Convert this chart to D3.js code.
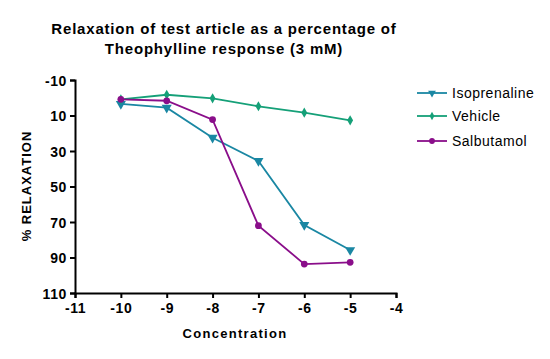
<!DOCTYPE html>
<html><head><meta charset="utf-8">
<script src="https://cdn.jsdelivr.net/npm/d3@7"></script>
<style>body{margin:0;background:#fff}svg{display:block}text{font-family:"Liberation Sans",Arial,sans-serif}</style>
</head><body>
<script>
const concentrations = [-10, -9, -8, -7, -6, -5];
const isoprenaline = [3.5, 5.6, 22.5, 35.6, 71.7, 85.8];
const vehicle = [0.9, -1.7, 0.3, 4.8, 8.4, 12.7];
const salbutamol = [0.9, 1.7, 12.3, 72.1, 93.7, 92.7];
const xTicks = [-11, -10, -9, -8, -7, -6, -5, -4];
const yTicks = [-10, 10, 30, 50, 70, 90, 110];
const seriesNames = ["Isoprenaline", "Vehicle", "Salbutamol"];
const seriesColors = ["#1a87a3", "#15a078", "#8a0e8a"];
const seriesSymbols = [d3.symbolTriangle, d3.symbolDiamond, d3.symbolCircle];

const W = 550, H = 359;
const svg = d3.select("body").append("svg").attr("width", W).attr("height", H);
const x = d3.scaleLinear().domain([-11, -4]).range([75, 396]);
const y = d3.scaleLinear().domain([-10, 110]).range([80, 293]);

svg.append("text").attr("x", 224).attr("y", 34).attr("text-anchor", "middle")
  .attr("font-size", 15).attr("font-weight", "bold").attr("letter-spacing", 0.8).text("Relaxation of test article as a percentage of");
svg.append("text").attr("x", 224).attr("y", 54).attr("text-anchor", "middle")
  .attr("font-size", 15).attr("font-weight", "bold").attr("letter-spacing", 0.8).text("Theophylline response (3 mM)");

const fmt = d => String(d);
const xa = svg.append("g").attr("transform", "translate(0,293)")
  .call(d3.axisBottom(x).tickValues(xTicks).tickSize(5).tickPadding(5).tickFormat(fmt));
const ya = svg.append("g").attr("transform", "translate(75,0)")
  .call(d3.axisLeft(y).tickValues(yTicks).tickSize(5).tickPadding(3).tickFormat(fmt));
[xa, ya].forEach(a => {
  a.select(".domain").attr("stroke", "#000").attr("stroke-width", 2);
  a.selectAll(".tick line").attr("stroke", "#000").attr("stroke-width", 2);
  a.selectAll(".tick text").attr("fill", "#000").attr("font-size", 14).attr("font-weight", "bold")
    .attr("letter-spacing", 0.6).attr("font-family", '"Liberation Sans",Arial,sans-serif');
});
ya.selectAll(".tick text").attr("dy", "0.36em");

svg.append("text").attr("x", 235).attr("y", 338).attr("text-anchor", "middle")
  .attr("font-size", 13).attr("font-weight", "bold").attr("letter-spacing", 1.3).text("Concentration");
svg.append("text").attr("transform", "translate(31,186) rotate(-90)").attr("text-anchor", "middle")
  .attr("font-size", 13).attr("font-weight", "bold").attr("letter-spacing", 1).text("% RELAXATION");

const data = [isoprenaline, vehicle, salbutamol];
const line = d3.line().x((d, i) => x(concentrations[i])).y(d => y(d));
data.forEach((vals, k) => {
  const g = svg.append("g");
  g.append("path").attr("d", line(vals)).attr("fill", "none")
    .attr("stroke", seriesColors[k]).attr("stroke-width", 1.8);
  const sizes = [44, 30, 36];
  g.selectAll("path.m").data(vals).join("path").attr("class", "m")
    .attr("transform", (d, i) => `translate(${x(concentrations[i])},${y(d)})` + (k === 0 ? " rotate(180)" : ""))
    .attr("d", d3.symbol().type(seriesSymbols[k]).size(sizes[k]))
    .attr("fill", seriesColors[k]);
});

const legY = [93, 116, 141];
seriesNames.forEach((n, k) => {
  const g = svg.append("g").attr("transform", `translate(0,${legY[k]})`);
  g.append("line").attr("x1", 417).attr("x2", 447).attr("stroke", seriesColors[k]).attr("stroke-width", 1.8);
  g.append("path").attr("transform", "translate(432,0)" + (k === 0 ? " rotate(180)" : ""))
    .attr("d", d3.symbol().type(seriesSymbols[k]).size(k === 1 ? 20 : 26)).attr("fill", seriesColors[k]);
  g.append("text").attr("x", 452).attr("y", 0).attr("dy", "0.35em").attr("font-size", 14)
    .attr("letter-spacing", 0.5).text(n);
});
</script>
</body></html>
